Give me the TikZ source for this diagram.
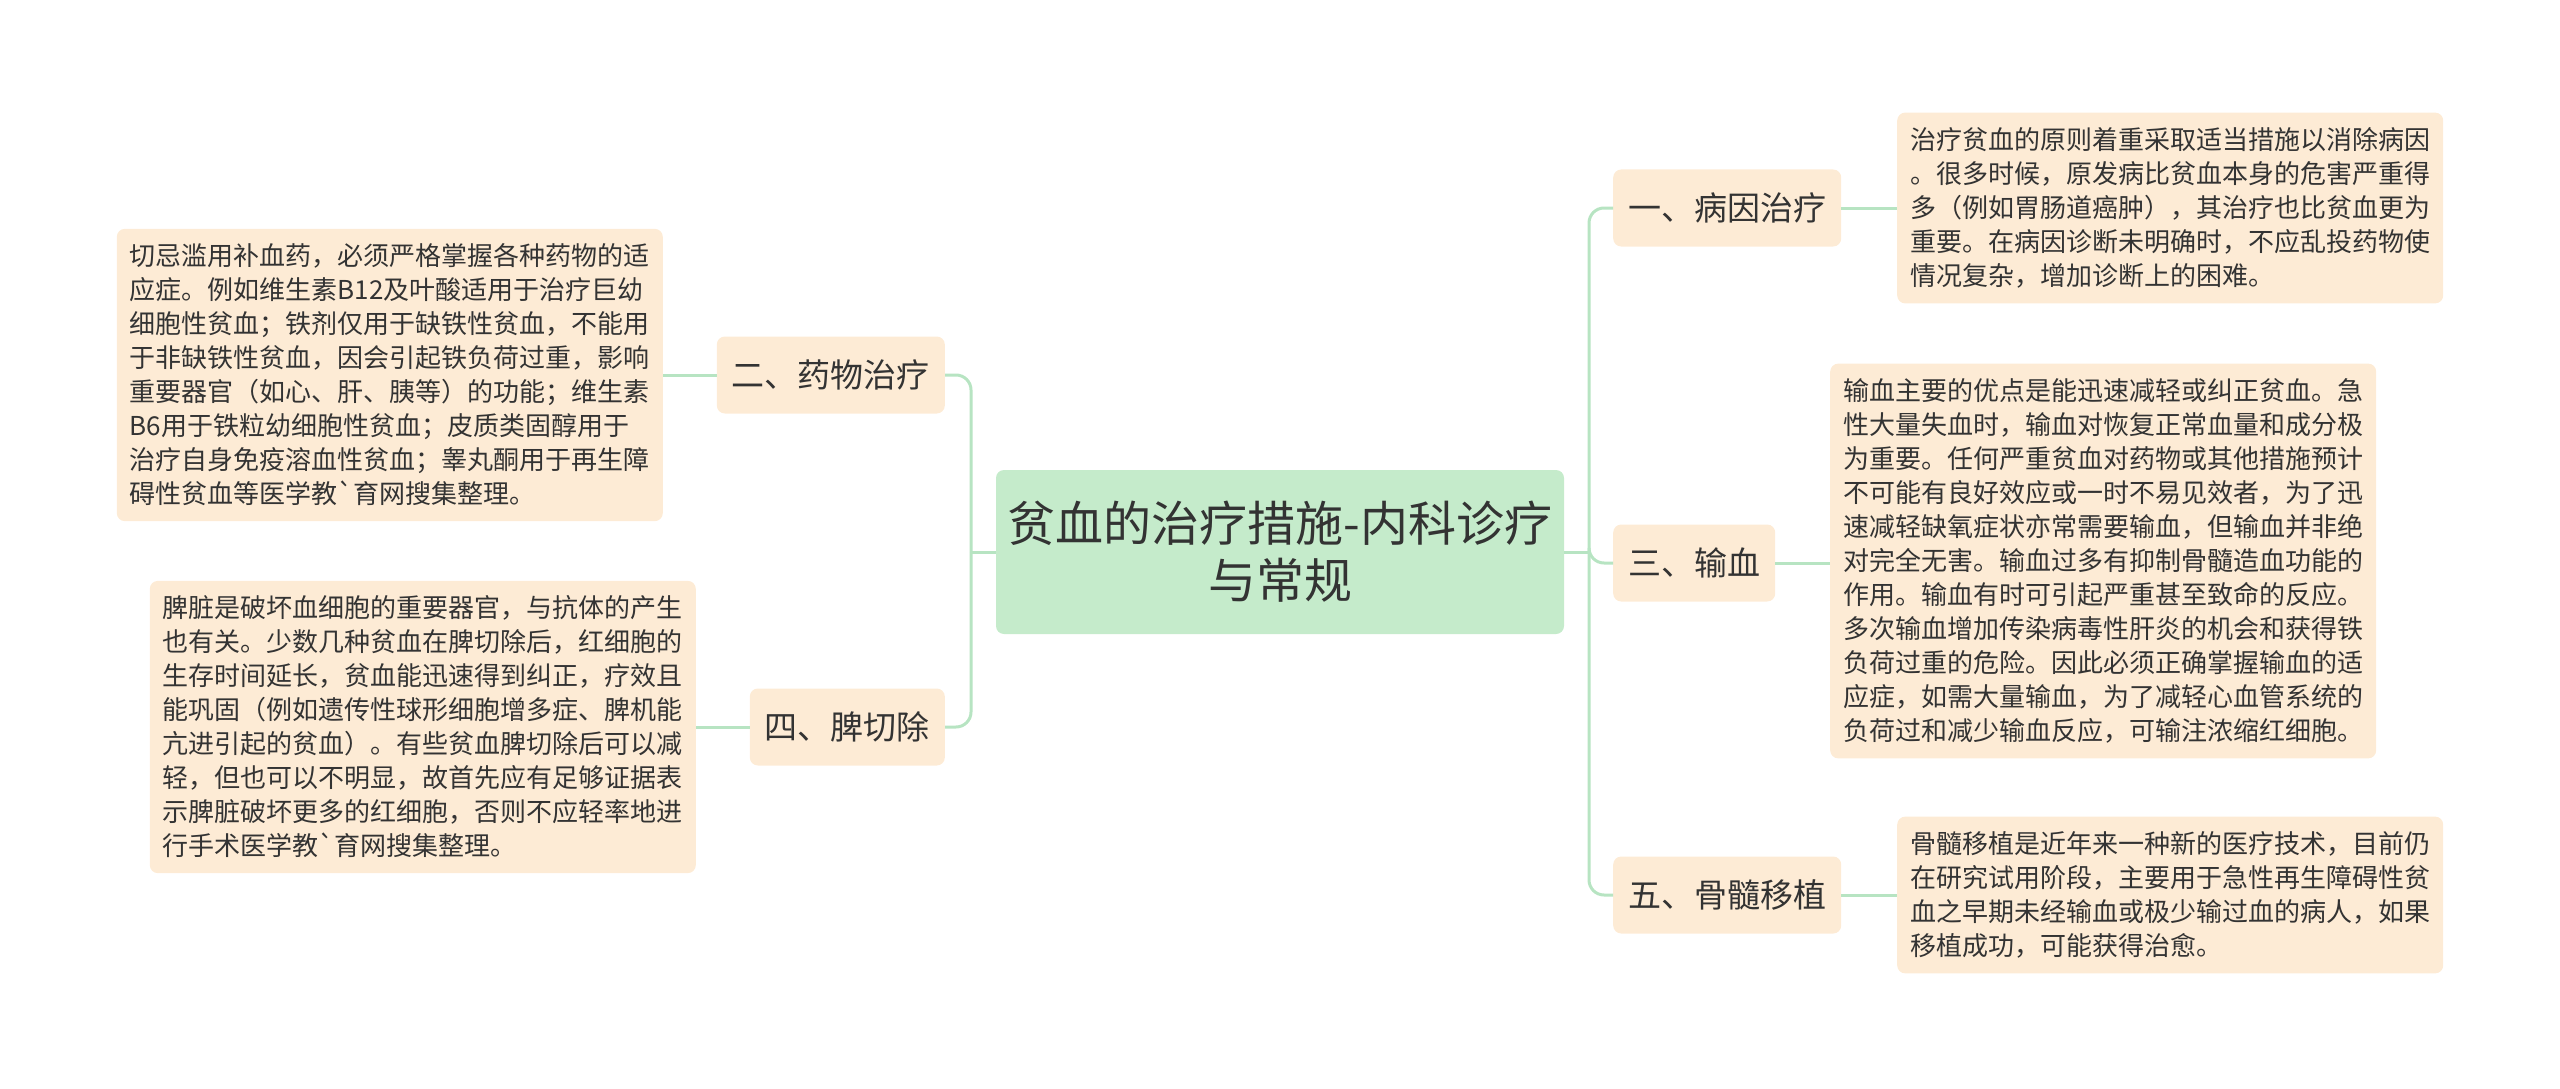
\documentclass[tikz,border=0pt]{standalone}
\usepackage{fontspec}
\newfontfamily\cjk{Noto Sans CJK SC}
\definecolor{linkgreen}{HTML}{B7E4C2}
\definecolor{rootgreen}{HTML}{C5EBCB}
\definecolor{peach}{HTML}{FDEBD5}
\definecolor{inkgray}{HTML}{333333}
\tikzset{
	root/.style={fill=rootgreen, rounded corners=8pt, minimum width=568pt, minimum height=164pt, align=center, text=inkgray, font=\cjk\fontsize{48}{57}\selectfont},
	topic/.style={fill=peach, rounded corners=8pt, minimum height=77pt, inner xsep=15pt, text=inkgray, font=\cjk\fontsize{33}{40}\selectfont},
	note/.style={fill=peach, rounded corners=8pt, inner xsep=13pt, inner ysep=15pt, align=left, text=inkgray, font=\cjk\fontsize{26}{34}\selectfont},
	link/.style={draw=linkgreen, line width=3pt, rounded corners=15pt}
}

\begin{document}
\begin{tikzpicture}[x=1pt, y=-1pt]
	\useasboundingbox (0,0) rectangle (2560,1089);

	\node (root) at (1280,552) [root] {贫血的治疗措施-内科诊疗\\与常规};

	\node (t1) at (1613,208) [topic, anchor=west] {一、病因治疗};
	\node (t2) at (945,375)  [topic, anchor=east] {二、药物治疗};
	\node (t3) at (1613,563) [topic, anchor=west] {三、输血};
	\node (t4) at (945,727)  [topic, anchor=east] {四、脾切除};
	\node (t5) at (1613,895) [topic, anchor=west] {五、骨髓移植};

	\node (n1) at (1897,208) [note, anchor=west] {治疗贫血的原则着重采取适当措施以消除病因\\。很多时候，原发病比贫血本身的危害严重得\\多（例如胃肠道癌肿），其治疗也比贫血更为\\重要。在病因诊断未明确时，不应乱投药物使\\情况复杂，增加诊断上的困难。};
	\node (n2) at (663,375) [note, anchor=east] {切忌滥用补血药，必须严格掌握各种药物的适\\应症。例如维生素B12及叶酸适用于治疗巨幼\\细胞性贫血；铁剂仅用于缺铁性贫血，不能用\\于非缺铁性贫血，因会引起铁负荷过重，影响\\重要器官（如心、肝、胰等）的功能；维生素\\B6用于铁粒幼细胞性贫血；皮质类固醇用于\\治疗自身免疫溶血性贫血；睾丸酮用于再生障\\碍性贫血等医学教`育网搜集整理。};
	\node (n3) at (1830,561) [note, anchor=west] {输血主要的优点是能迅速减轻或纠正贫血。急\\性大量失血时，输血对恢复正常血量和成分极\\为重要。任何严重贫血对药物或其他措施预计\\不可能有良好效应或一时不易见效者，为了迅\\速减轻缺氧症状亦常需要输血，但输血并非绝\\对完全无害。输血过多有抑制骨髓造血功能的\\作用。输血有时可引起严重甚至致命的反应。\\多次输血增加传染病毒性肝炎的机会和获得铁\\负荷过重的危险。因此必须正确掌握输血的适\\应症，如需大量输血，为了减轻心血管系统的\\负荷过和减少输血反应，可输注浓缩红细胞。};
	\node (n4) at (696,727) [note, anchor=east] {脾脏是破坏血细胞的重要器官，与抗体的产生\\也有关。少数几种贫血在脾切除后，红细胞的\\生存时间延长，贫血能迅速得到纠正，疗效且\\能巩固（例如遗传性球形细胞增多症、脾机能\\亢进引起的贫血）。有些贫血脾切除后可以减\\轻，但也可以不明显，故首先应有足够证据表\\示脾脏破坏更多的红细胞，否则不应轻率地进\\行手术医学教`育网搜集整理。};
	\node (n5) at (1897,895) [note, anchor=west] {骨髓移植是近年来一种新的医疗技术，目前仍\\在研究试用阶段，主要用于急性再生障碍性贫\\血之早期未经输血或极少输过血的病人，如果\\移植成功，可能获得治愈。};

	\coordinate (rtrunk) at (1589,552);
	\coordinate (ltrunk) at (971,552);

	% root to the two trunks
	\draw[link] (root.east) -- (rtrunk);
	\draw[link] (root.west) -- (ltrunk);
	\draw[link] (rtrunk) |- (t1.west);
	\draw[link] (rtrunk) |- (t3.west);
	\draw[link] (rtrunk) |- (t5.west);
	\draw[link] (ltrunk) |- (t2.east);
	\draw[link] (ltrunk) |- (t4.east);

	% topics to notes
	\draw[link] (t1.east) -- (n1.west);
	\draw[link] (t2.west) -- (n2.east);
	\draw[link] (t3.east) -- (n3.west |- t3.east);
	\draw[link] (t4.west) -- (n4.east);
	\draw[link] (t5.east) -- (n5.west);
\end{tikzpicture}
\end{document}
